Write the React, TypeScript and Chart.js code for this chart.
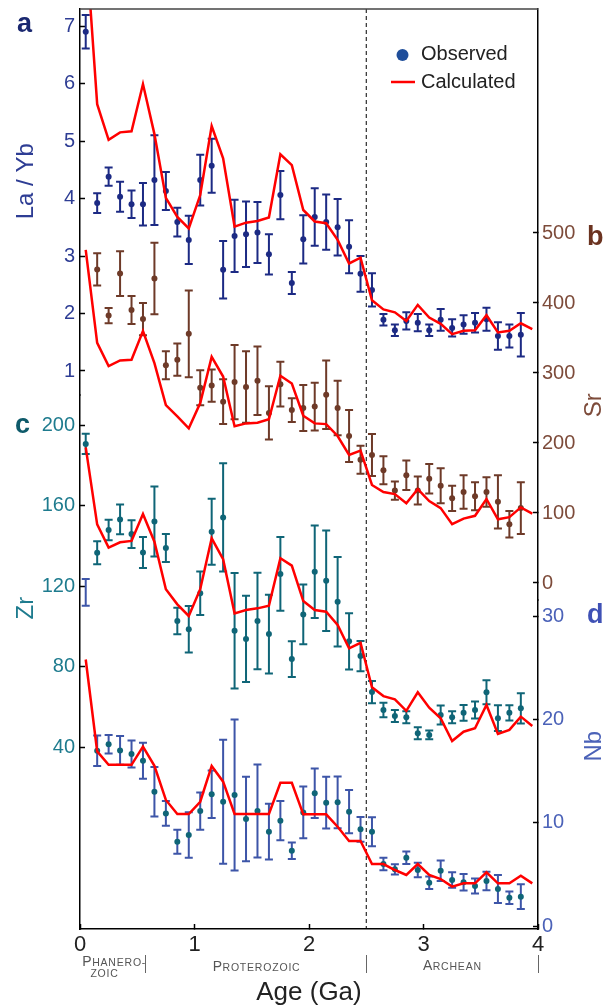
import React, { useEffect, useRef } from "react";
import { Chart, registerables } from "chart.js";
Chart.register(...registerables);

const FONT = "'Liberation Sans', Arial, Helvetica, sans-serif";

// ---- data ----
const obsAges = [0.05, 0.15, 0.25, 0.35, 0.45, 0.55, 0.65, 0.75, 0.85, 0.95, 1.05, 1.15, 1.25, 1.35, 1.45, 1.55, 1.65, 1.75, 1.85, 1.95, 2.05, 2.15, 2.25, 2.35, 2.45, 2.55, 2.65, 2.75, 2.85, 2.95, 3.05, 3.15, 3.25, 3.35, 3.45, 3.55, 3.65, 3.75, 3.85];
const calcAges = [0.05, 0.15, 0.25, 0.35, 0.45, 0.55, 0.65, 0.75, 0.85, 0.95, 1.05, 1.15, 1.25, 1.35, 1.45, 1.55, 1.65, 1.75, 1.85, 1.95, 2.05, 2.15, 2.25, 2.35, 2.45, 2.55, 2.65, 2.75, 2.85, 2.95, 3.05, 3.15, 3.25, 3.35, 3.45, 3.55, 3.65, 3.75, 3.85, 3.95];

const laybObs = [6.90, 3.92, 4.38, 4.03, 3.90, 3.90, 4.32, 4.13, 3.59, 3.28, 4.32, 4.57, 2.76, 3.35, 3.38, 3.41, 3.03, 4.06, 2.53, 3.29, 3.68, 3.59, 3.50, 3.16, 2.69, 2.41, 1.89, 1.71, 1.87, 1.84, 1.71, 1.89, 1.75, 1.81, 1.84, 1.90, 1.61, 1.61, 1.63];
const laybErr = [0.29, 0.17, 0.16, 0.26, 0.24, 0.37, 0.78, 0.33, 0.25, 0.42, 0.44, 0.47, 0.50, 0.63, 0.57, 0.53, 0.35, 0.42, 0.19, 0.42, 0.50, 0.48, 0.49, 0.46, 0.31, 0.29, 0.10, 0.10, 0.15, 0.15, 0.10, 0.19, 0.15, 0.16, 0.17, 0.20, 0.24, 0.20, 0.38];
const laybCalc = [8.5, 5.64, 5.02, 5.15, 5.17, 5.99, 5.12, 4.01, 3.68, 3.48, 4.06, 5.26, 4.70, 3.51, 3.58, 3.61, 3.67, 4.77, 4.58, 3.80, 3.60, 3.57, 3.28, 2.87, 2.97, 2.23, 2.07, 2.02, 1.87, 2.15, 1.93, 1.82, 1.64, 1.70, 1.71, 1.97, 1.67, 1.70, 1.83, 1.73];

const srObs = [null, 448, 382, 442, 390, 377, 435, 311, 319, 356, 279, 282, 259, 287, 280, 289, 243, 284, 247, 250, 252, 269, 250, 210, 176, 183, 161, 132, 154, 132, 149, 139, 121, 130, 124, 130, 116, 84, 107];
const srErr = [null, 23, 11, 32, 20, 23, 51, 20, 23, 62, 25, 23, 32, 53, 51, 49, 38, 32, 17, 33, 34, 49, 39, 37, 20, 30, 20, 13, 21, 20, 21, 25, 18, 24, 20, 21, 38, 19, 37];
const srCalc = [476, 343, 310, 318, 319, 360, 314, 254, 238, 221, 257, 323, 295, 224, 228, 229, 234, 296, 285, 239, 228, 227, 210, 183, 189, 140, 130, 127, 114, 134, 117, 107, 84, 92, 96, 120, 91, 94, 108, 99];

const zrObs = [190.6, 136.5, 147.8, 153.1, 145.8, 136.7, 152, 138.9, 102.6, 98.5, 116.4, 147, 154.1, 97.8, 93.7, 102.6, 96.1, 126, 83.7, 105.9, 127.1, 122.6, 112.2, 92.5, 85.2, 67.3, 58.4, 55.4, 54.8, 46.8, 46, 55.9, 54.8, 57, 58.4, 67.2, 54.3, 57, 59.2];
const zrErr = [5, 5.7, 5.1, 7.4, 6.9, 7.7, 17.4, 7, 6.6, 11.6, 10.8, 16.4, 26.9, 28.7, 21.4, 24, 19.6, 18.3, 8.9, 14.9, 23, 25, 22.2, 14, 7.5, 5.5, 3.6, 3, 3, 3, 2.2, 4.7, 3, 3.9, 4.2, 6, 6.4, 3.8, 7.5];
const zrCalc = [188.9, 150.6, 139.1, 141.7, 142.4, 155.8, 142, 118.4, 110.9, 105.1, 118.4, 143.7, 133.3, 106.4, 108.1, 108.9, 110.2, 133.8, 130.1, 112.5, 108.1, 107.2, 100.6, 89, 91.8, 69.7, 65.3, 63.7, 58, 67.2, 59.5, 54.3, 43, 47.6, 49.3, 60.9, 46.5, 48.5, 55.1, 50.4];

const nbObs = [32.3, 16.97, 17.6, 17.0, 16.65, 16.0, 13.0, 10.9, 8.16, 8.81, 11.13, 12.75, 12.03, 12.68, 10.36, 11.13, 9.13, 10.2, 7.29, 11.0, 12.85, 11.94, 11.97, 11.07, 9.36, 9.13, 6.0, 5.49, 6.61, 5.42, 4.19, 5.35, 4.45, 4.23, 3.87, 4.36, 3.58, 2.74, 2.84];
const nbErr = [1.3, 1.48, 0.9, 1.4, 1.3, 1.75, 2.4, 1.2, 1.16, 2.2, 1.8, 2.3, 6, 7.3, 4.1, 4.5, 2.7, 1.9, 0.8, 2.5, 2.4, 2.5, 2.5, 2.1, 1.2, 1.4, 0.6, 0.5, 0.6, 0.7, 0.6, 1, 0.75, 0.8, 0.73, 0.9, 1.35, 0.6, 1.2];
const nbCalc = [25.8, 16.9, 15.6, 15.6, 15.6, 17.36, 15.5, 12.2, 10.84, 10.84, 12.03, 15.5, 13.97, 10.84, 10.84, 10.84, 10.84, 13.87, 13.87, 10.81, 10.81, 10.81, 9.61, 8.23, 8.23, 6.0, 6.0, 5.42, 4.94, 6.0, 4.94, 4.55, 3.81, 4.13, 4.13, 5.2, 4.13, 4.13, 4.87, 4.13];

const xTicks = [0, 1, 2, 3, 4];
const laybTicks = [1, 2, 3, 4, 5, 6, 7];
const zrTicks = [40, 80, 120, 160, 200];
const srTicks = [0, 100, 200, 300, 400, 500];
const nbTicks = [0, 10, 20, 30];

const legendLabels = ["Observed", "Calculated"];
const axisTitles = ["La / Yb", "Sr", "Zr", "Nb"];
const panelLetters = ["a", "b", "c", "d"];
const boundaryAge = 2.5;
const eraSeparators = [0.57, 2.5, 4.0];

// ---- colours ----
const LAYB_C = "#1c2a84";
const SR_C = "#6e3a28";
const ZR_C = "#0f6577";
const NB_BAR = "#3d55a8";
const RED = "#ff0000";

function pts(ages: number[], vals: (number | null)[], errs?: (number | null)[]) {
  const out: any[] = [];
  ages.forEach((a, i) => {
    if (vals[i] == null) return;
    out.push({ x: a, y: vals[i], e: errs ? errs[i] : 0 });
  });
  return out;
}

function yScale(pos: string, weight: number, stackWeight: number, width: number, min: number, max: number, ticks: number[], color: string) {
  return {
    type: "linear",
    position: pos,
    stack: pos,
    stackWeight,
    weight,
    min,
    max,
    afterBuildTicks: (s: any) => {
      s.ticks = ticks.map((v) => ({ value: v }));
    },
    afterFit: (s: any) => {
      s.width = width;
      s.paddingTop = 0;
      s.paddingBottom = 0;
    },
    grid: { drawOnChartArea: false, drawTicks: true, tickLength: -5, tickColor: "#000", tickWidth: 1.5 },
    border: { display: true, color: "#000", width: 1.5 },
    ticks: {
      color,
      font: { family: FONT, size: 20 },
      padding: pos === "left" ? 10 : 9,
      autoSkip: false,
      callback: (v: any) => String(v),
    },
  };
}

function smallCaps(ctx: CanvasRenderingContext2D, text: string, x: number, y: number, align: string, firstBig: boolean) {
  const big = `14px ${FONT}`;
  const small = `10.5px ${FONT}`;
  const first = firstBig ? text[0].toUpperCase() : "";
  const rest = (firstBig ? text.slice(1) : text).toUpperCase();
  ctx.font = big;
  const w1 = first ? ctx.measureText(first).width : 0;
  ctx.font = small;
  const sp = 0.8;
  const w2 = ctx.measureText(rest).width + sp * rest.length;
  const total = w1 + w2;
  let sx = x;
  if (align === "center") sx = x - total / 2;
  ctx.textAlign = "left";
  ctx.textBaseline = "alphabetic";
  if (first) {
    ctx.font = big;
    ctx.fillText(first, sx, y);
  }
  ctx.font = small;
  let cx = sx + w1 + 0.5;
  for (const ch of rest) {
    ctx.fillText(ch, cx, y);
    cx += ctx.measureText(ch).width + sp;
  }
}

const overlayPlugin = {
  id: "overlay",
  beforeDatasetsDraw(chart: any) {
    const { ctx, chartArea: ca, scales } = chart;
    // dashed boundary line
    const bx = scales.x.getPixelForValue(boundaryAge);
    ctx.save();
    ctx.setLineDash([4, 3]);
    ctx.strokeStyle = "#000";
    ctx.lineWidth = 1;
    ctx.beginPath();
    ctx.moveTo(bx, ca.top);
    ctx.lineTo(bx, ca.bottom);
    ctx.stroke();
    ctx.restore();
    // error bars
    chart.data.datasets.forEach((ds: any) => {
      if (!ds.barColor) return;
      const ys = scales[ds.yAxisID];
      ctx.save();
      ctx.strokeStyle = ds.barColor;
      ctx.lineWidth = 2;
      ds.data.forEach((p: any) => {
        const x = scales.x.getPixelForValue(p.x);
        const y1 = ys.getPixelForValue(p.y - p.e);
        const y2 = ys.getPixelForValue(p.y + p.e);
        ctx.beginPath();
        ctx.moveTo(x, y1);
        ctx.lineTo(x, y2);
        ctx.moveTo(x - 4, y1);
        ctx.lineTo(x + 4, y1);
        ctx.moveTo(x - 4, y2);
        ctx.lineTo(x + 4, y2);
        ctx.stroke();
      });
      ctx.restore();
    });
  },
  afterDraw(chart: any) {
    const { ctx, chartArea: ca, scales } = chart;
    ctx.save();
    // top frame line
    ctx.strokeStyle = "#444";
    ctx.lineWidth = 1.5;
    ctx.beginPath();
    ctx.moveTo(ca.left, ca.top);
    ctx.lineTo(ca.right, ca.top);
    ctx.stroke();

    // axis titles (rotated)
    const titleSpecs = [
      { t: axisTitles[0], x: 26, y: scales.yLa.getPixelForValue(4.3), c: "#2e3d94" },
      { t: axisTitles[1], x: 594, y: scales.ySr.getPixelForValue(254), c: "#7d4b3a" },
      { t: axisTitles[2], x: 26, y: scales.yZr.getPixelForValue(109), c: "#1e7b8e" },
      { t: axisTitles[3], x: 594, y: scales.yNb.getPixelForValue(17.4), c: "#4b62b8" },
    ];
    titleSpecs.forEach((s) => {
      ctx.save();
      ctx.translate(s.x, s.y);
      ctx.rotate(-Math.PI / 2);
      ctx.fillStyle = s.c;
      ctx.font = `24px ${FONT}`;
      ctx.textAlign = "center";
      ctx.textBaseline = "middle";
      ctx.fillText(s.t, 0, 0);
      ctx.restore();
    });

    // panel letters
    const letterSpecs = [
      { t: panelLetters[0], x: 17, y: 32, c: "#1a2870" },
      { t: panelLetters[1], x: 587, y: 245, c: "#6b3320" },
      { t: panelLetters[2], x: 15, y: 433, c: "#0e5a6a" },
      { t: panelLetters[3], x: 587, y: 623, c: "#3f51b5" },
    ];
    letterSpecs.forEach((s) => {
      ctx.fillStyle = s.c;
      ctx.font = `bold 27px ${FONT}`;
      ctx.textAlign = "left";
      ctx.textBaseline = "alphabetic";
      ctx.fillText(s.t, s.x, s.y);
    });

    // legend
    ctx.fillStyle = "#1f4e9a";
    ctx.beginPath();
    ctx.arc(402.5, 55, 6, 0, Math.PI * 2);
    ctx.fill();
    ctx.strokeStyle = RED;
    ctx.lineWidth = 2.5;
    ctx.beginPath();
    ctx.moveTo(391, 82);
    ctx.lineTo(415, 82);
    ctx.stroke();
    ctx.fillStyle = "#222";
    ctx.font = `20px ${FONT}`;
    ctx.textAlign = "left";
    ctx.textBaseline = "middle";
    ctx.fillText(legendLabels[0], 421, 54);
    ctx.fillText(legendLabels[1], 421, 82);

    // eras
    const xs = scales.x;
    ctx.fillStyle = "#555";
    smallCaps(ctx, "Phanero-", xs.getPixelForValue(0.02), 966, "left", true);
    smallCaps(ctx, "zoic", xs.getPixelForValue(0.21), 977, "center", false);
    smallCaps(ctx, "Proterozoic", xs.getPixelForValue(1.54), 971, "center", true);
    smallCaps(ctx, "Archean", xs.getPixelForValue(3.25), 970, "center", true);
    ctx.strokeStyle = "#666";
    ctx.lineWidth = 1;
    eraSeparators.forEach((a) => {
      const x = Math.round(xs.getPixelForValue(a)) + 0.5;
      ctx.beginPath();
      ctx.moveTo(x, 955);
      ctx.lineTo(x, 973);
      ctx.stroke();
    });
    ctx.restore();
  },
};

export default function App() {
  const ref = useRef<HTMLCanvasElement | null>(null);
  useEffect(() => {
    if (!ref.current) return;
    const obsSpecs = [
      { d: pts(obsAges, laybObs, laybErr), axis: "yLa", bar: LAYB_C, pt: LAYB_C },
      { d: pts(obsAges, srObs, srErr), axis: "ySr", bar: SR_C, pt: SR_C },
      { d: pts(obsAges, zrObs, zrErr), axis: "yZr", bar: ZR_C, pt: ZR_C },
      { d: pts(obsAges, nbObs, nbErr), axis: "yNb", bar: NB_BAR, pt: ZR_C },
    ];
    const calcSpecs = [
      { d: pts(calcAges, laybCalc), axis: "yLa" },
      { d: pts(calcAges, srCalc), axis: "ySr" },
      { d: pts(calcAges, zrCalc), axis: "yZr" },
      { d: pts(calcAges, nbCalc), axis: "yNb" },
    ];
    const datasets: any[] = [];
    obsSpecs.forEach((s, i) => {
      datasets.push({
        label: "Observed " + i,
        data: s.d,
        yAxisID: s.axis,
        barColor: s.bar,
        showLine: false,
        pointRadius: 3,
        pointBackgroundColor: s.pt,
        pointBorderColor: s.pt,
        pointBorderWidth: 0,
        order: 1,
      });
    });
    calcSpecs.forEach((s, i) => {
      datasets.push({
        label: "Calculated " + i,
        data: s.d,
        yAxisID: s.axis,
        showLine: true,
        borderColor: RED,
        borderWidth: 2.5,
        pointRadius: 0,
        fill: false,
        tension: 0,
        order: 0,
      });
    });

    // chart area spans y 9..929; left stack split at y=395, right stack split at y=600
    const chart = new Chart(ref.current, {
      type: "scatter",
      data: { datasets },
      options: {
        animation: false,
        responsive: false,
        events: [],
        layout: { padding: { top: 9, left: 0, right: 0, bottom: 0 } },
        plugins: { legend: { display: false }, tooltip: { enabled: false } },
        scales: {
          x: {
            type: "linear",
            position: "bottom",
            min: 0,
            max: 4,
            afterBuildTicks: (s: any) => {
              s.ticks = xTicks.map((v) => ({ value: v }));
            },
            afterFit: (s: any) => {
              s.height = 79;
              s.paddingLeft = 0;
              s.paddingRight = 0;
            },
            grid: { drawOnChartArea: false, drawTicks: true, tickLength: -5, tickColor: "#000", tickWidth: 1.5 },
            border: { display: true, color: "#000", width: 1.5 },
            ticks: { color: "#222", font: { family: FONT, size: 22 }, padding: 8, maxRotation: 0, autoSkip: false, callback: (v: any) => String(v) },
            title: { display: true, text: "Age (Ga)", color: "#222", font: { family: FONT, size: 26 }, padding: { top: 0, bottom: 0 } },
          },
          yLa: yScale("left", 1, 386, 80, 0.5826, 7.2957, laybTicks, "#2e3d94"),
          yZr: yScale("left", 0, 534, 80, -50.43, 214.91, zrTicks, "#1e7b8e"),
          ySr: yScale("right", 0, 591, 73, -24.29, 820, srTicks, "#7d4b3a"),
          yNb: yScale("right", 1, 329, 73, -0.29, 31.56, nbTicks, "#4b62b8"),
        } as any,
      },
      plugins: [overlayPlugin as any],
    } as any);
    return () => chart.destroy();
  }, []);

  return (
    <div style={{ position: "absolute", left: 0, top: 0, width: 611, height: 1008, background: "#fff" }}>
      <canvas ref={ref} width={611} height={1008} style={{ display: "block" }} />
    </div>
  );
}
